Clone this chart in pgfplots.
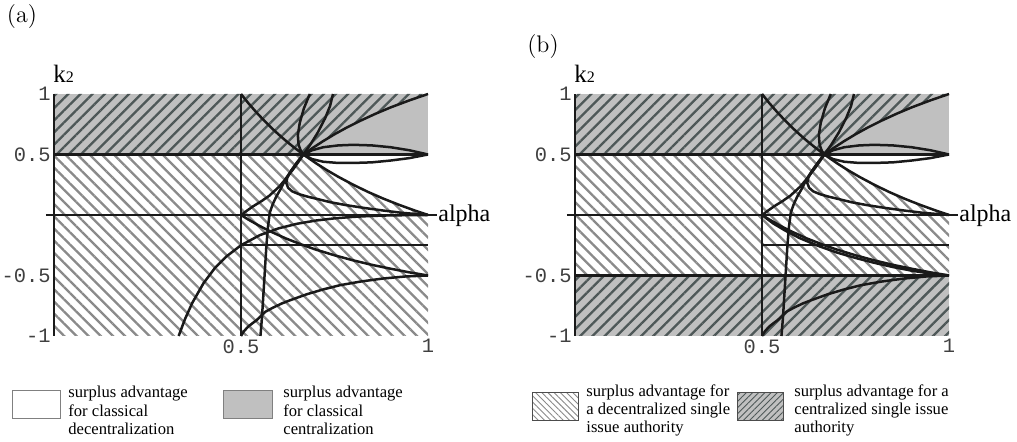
\documentclass[border=0pt]{standalone}
\usepackage{fontspec}
\usepackage{pgfplots}
\usepackage{pgfplotstable}
\pgfplotsset{compat=1.18}
\usetikzlibrary{patterns.meta}
\newfontfamily\tnr{Liberation Serif}
\newfontfamily\cour{Liberation Mono}
\definecolor{bandgray}{HTML}{C0C0C0}
\definecolor{hatchlight}{HTML}{8A8A8A}
\definecolor{hatchdark}{HTML}{4E5858}
\definecolor{curve}{HTML}{1A1A1A}

% boundary curves in the (alpha, k2) plane
\pgfplotstableread{
a k
0.50 1.000
0.52 0.923
0.54 0.852
0.56 0.786
0.58 0.724
0.60 0.667
0.62 0.613
0.64 0.5625
0.6667 0.500
0.70 0.4286
0.73 0.370
0.76 0.316
0.80 0.250
0.84 0.190
0.88 0.136
0.92 0.087
0.96 0.042
1.00 0.000
}\curveA
\pgfplotstableread{
a k
0.6667 0.500
0.69 0.551
0.72 0.611
0.75 0.667
0.78 0.718
0.82 0.780
0.86 0.837
0.90 0.889
0.95 0.947
1.00 1.000
}\curveB
\pgfplotstableread{
a k
0.6667 0.500
0.69 0.535
0.72 0.560
0.76 0.575
0.80 0.580
0.85 0.575
0.90 0.560
0.95 0.535
1.00 0.500
}\lensUp
\pgfplotstableread{
a k
0.6667 0.500
0.69 0.462
0.72 0.440
0.76 0.430
0.80 0.430
0.85 0.435
0.90 0.450
0.95 0.470
1.00 0.500
}\lensLow
\pgfplotstableread{
a k
0.684 1.000
0.668 0.880
0.657 0.760
0.652 0.660
0.654 0.580
0.660 0.530
0.6667 0.500
}\curveU
\pgfplotstableread{
a k
0.500 0.000
0.531 0.069
0.555 0.115
0.576 0.160
0.602 0.234
0.620 0.300
0.640 0.380
0.655 0.445
0.6667 0.500
0.685 0.580
0.705 0.680
0.725 0.800
0.738 0.900
0.746 1.000
}\curveE
\pgfplotstableread{
a k
0.552 -1.000
0.556 -0.850
0.560 -0.650
0.564 -0.450
0.568 -0.250
0.572 -0.100
0.577 0.020
0.585 0.090
0.594 0.150
0.607 0.220
0.620 0.300
0.635 0.370
0.650 0.435
0.6667 0.500
}\curveS
\pgfplotstableread{
a k
0.6667 0.500
0.650 0.435
0.635 0.370
0.624 0.310
0.621 0.265
0.626 0.225
0.637 0.195
0.655 0.172
0.680 0.150
0.710 0.128
0.740 0.105
0.780 0.082
0.830 0.058
0.880 0.037
0.930 0.018
1.000 0.000
}\curveF
\pgfplotstableread{
a k
0.50 0.000
0.52 -0.0385
0.55 -0.0909
0.58 -0.138
0.62 -0.194
0.66 -0.242
0.70 -0.286
0.75 -0.333
0.80 -0.375
0.85 -0.412
0.90 -0.444
0.95 -0.474
1.00 -0.500
}\curveG
\pgfplotstableread{
a k
0.500 -1.000
0.508 -0.960
0.520 -0.920
0.542 -0.868
0.565 -0.800
0.586 -0.765
0.610 -0.730
0.631 -0.705
0.676 -0.655
0.720 -0.615
0.765 -0.580
0.820 -0.550
0.880 -0.525
0.940 -0.508
1.000 -0.500
}\curveI
\pgfplotstableread{
a k
0.3333 -1.000
0.35 -0.862
0.37 -0.725
0.40 -0.5625
0.43 -0.439
0.46 -0.345
0.50 -0.250
0.55 -0.167
0.60 -0.111
0.65 -0.0725
0.70 -0.0459
0.75 -0.0278
0.80 -0.0156
0.85 -0.0078
0.90 -0.0031
1.00 0.000
}\curveH
\pgfplotstableread{
a k
0.50 0.000
0.53 -0.070
0.56 -0.125
0.60 -0.190
0.65 -0.255
0.70 -0.310
0.75 -0.355
0.80 -0.395
0.85 -0.430
0.90 -0.460
0.95 -0.484
1.00 -0.500
}\curveGb

\pgfplotsset{
  panel/.style={
    scale only axis, width=187pt, height=121pt,
    xmin=0, xmax=1, ymin=-1, ymax=1,
    clip=false,
    axis line style={draw=none},
    major tick style={draw=none},
    xtick={0.5,1}, xticklabels={0.5,1},
    ytick={-1,-0.5,0.5,1}, yticklabels={-1,-0.5,0.5,1},
    ticklabel style={font=\cour\fontsize{10.2}{12}\selectfont, text=black!75},
    yticklabel style={inner sep=1.5pt},
    xticklabel style={inner sep=1.5pt},
    table/x=a, table/y=k,
  },
  bd/.style={line width=1.25pt, draw=curve, line join=round, mark=none},
  grayband/.style={draw=none, fill=bandgray},
  darkhatch/.style={draw=none, pattern={Lines[angle=45,distance=4.3pt,line width=1.15pt]}, pattern color=hatchdark},
  lighthatch/.style={draw=none, pattern={Lines[angle=-45,distance=4.3pt,line width=1.15pt]}, pattern color=hatchlight},
}

\begin{document}
\begin{tikzpicture}
\useasboundingbox (0,0) rectangle (508.5pt,221pt);

% ---------- panel (a) ----------
\begin{axis}[panel, at={(27pt,53pt)}, anchor=south west]
\addplot[grayband] coordinates {(0,0.5) (1,0.5) (1,1) (0,1)} -- cycle;
\addplot[darkhatch] coordinates {(0,0.5) (0.6667,0.5) (0.69,0.551) (0.72,0.611) (0.75,0.667) (0.78,0.718) (0.82,0.780) (0.86,0.837) (0.90,0.889) (0.95,0.947) (1,1) (0,1)} -- cycle;
\addplot[lighthatch] coordinates {(0,-1) (1,-1) (1,0) (0.96,0.042) (0.92,0.087) (0.88,0.136) (0.84,0.190) (0.80,0.250) (0.76,0.316) (0.73,0.370) (0.70,0.4286) (0.6667,0.5) (0,0.5)} -- cycle;
% straight boundaries
\addplot[bd] coordinates {(0,-1) (0,1)};
\addplot[bd] coordinates {(0.5,-1) (0.5,1)};
\addplot[bd] coordinates {(0,0.5) (1,0.5)};
\addplot[bd] coordinates {(-0.022,0) (1.024,0)};
\addplot[bd] coordinates {(0.5,-0.25) (1,-0.25)};
% curved boundaries
\addplot[bd] table {\curveA};
\addplot[bd] table {\curveB};
\addplot[bd] table {\lensUp};
\addplot[bd] table {\lensLow};
\addplot[bd] table {\curveU};
\addplot[bd] table {\curveE};
\addplot[bd] table {\curveS};
\addplot[bd] table {\curveF};
\addplot[bd] table {\curveG};
\addplot[bd] table {\curveI};
\addplot[bd] table {\curveH};
\node[anchor=base west, inner sep=0, font=\tnr\fontsize{12}{14}\selectfont] at ([xshift=5pt, yshift=-3.5pt]axis cs:1,0) {alpha};
\node[anchor=base west, inner sep=0, font=\tnr\fontsize{12.5}{14}\selectfont] at ([xshift=-0.5pt, yshift=5.5pt]rel axis cs:0,1) {k{\fontsize{8}{9}\selectfont 2}};
\end{axis}

% ---------- panel (b) ----------
\begin{axis}[panel, at={(287.5pt,53pt)}, anchor=south west]
\addplot[grayband] coordinates {(0,0.5) (1,0.5) (1,1) (0,1)} -- cycle;
\addplot[grayband] coordinates {(0,-1) (1,-1) (1,-0.5) (0,-0.5)} -- cycle;
\addplot[darkhatch] coordinates {(0,0.5) (0.6667,0.5) (0.69,0.551) (0.72,0.611) (0.75,0.667) (0.78,0.718) (0.82,0.780) (0.86,0.837) (0.90,0.889) (0.95,0.947) (1,1) (0,1)} -- cycle;
\addplot[darkhatch] coordinates {(0,-1) (1,-1) (1,-0.5) (0,-0.5)} -- cycle;
\addplot[lighthatch] coordinates {(0,-0.5) (1,-0.5) (1,0) (0.96,0.042) (0.92,0.087) (0.88,0.136) (0.84,0.190) (0.80,0.250) (0.76,0.316) (0.73,0.370) (0.70,0.4286) (0.6667,0.5) (0,0.5)} -- cycle;
\addplot[bd] coordinates {(0,-1) (0,1)};
\addplot[bd] coordinates {(0.5,-1) (0.5,1)};
\addplot[bd] coordinates {(0,0.5) (1,0.5)};
\addplot[bd] coordinates {(0,-0.5) (1,-0.5)};
\addplot[bd] coordinates {(-0.022,0) (1.024,0)};
\addplot[bd] coordinates {(0.5,-0.25) (1,-0.25)};
\addplot[bd] table {\curveA};
\addplot[bd] table {\curveB};
\addplot[bd] table {\lensUp};
\addplot[bd] table {\lensLow};
\addplot[bd] table {\curveU};
\addplot[bd] table {\curveE};
\addplot[bd] table {\curveS};
\addplot[bd] table {\curveF};
\addplot[bd] table {\curveG};
\addplot[bd] table {\curveGb};
\addplot[bd] table {\curveI};
\node[anchor=base west, inner sep=0, font=\tnr\fontsize{12}{14}\selectfont] at ([xshift=5pt, yshift=-3.5pt]axis cs:1,0) {alpha};
\node[anchor=base west, inner sep=0, font=\tnr\fontsize{12.5}{14}\selectfont] at ([xshift=-0.5pt, yshift=5.5pt]rel axis cs:0,1) {k{\fontsize{8}{9}\selectfont 2}};
\end{axis}

% panel tags
\node[anchor=center, font=\fontsize{12}{14}\selectfont] at (11pt,212.5pt) {(a)};
\node[anchor=center, font=\fontsize{12}{14}\selectfont] at (271.5pt,197.5pt) {(b)};

% legends
\tikzset{legtext/.style={anchor=north west, inner sep=0, align=left, font=\tnr\fontsize{8.3}{9.2}\selectfont}}
\draw[gray, line width=0.5pt, fill=white] (6pt,11.5pt) rectangle (30pt,25.5pt);
\node[legtext] at (34pt,28pt) {surplus advantage\\for classical\\decentralization};
\draw[gray, line width=0.5pt, fill=bandgray] (111.5pt,11.5pt) rectangle (136pt,25.5pt);
\node[legtext] at (141.5pt,28pt) {surplus advantage\\for classical\\centralization};
\fill[pattern={Lines[angle=-45,distance=2.2pt,line width=0.45pt]}, pattern color=hatchlight] (266pt,10.5pt) rectangle (289pt,24.5pt);
\draw[black!70, line width=0.5pt] (266pt,10.5pt) rectangle (289pt,24.5pt);
\node[legtext] at (293pt,29pt) {surplus advantage for\\a decentralized single\\issue authority};
\fill[bandgray] (368.5pt,10.5pt) rectangle (391.5pt,24.5pt);
\fill[pattern={Lines[angle=45,distance=2.2pt,line width=0.45pt]}, pattern color=hatchdark] (368.5pt,10.5pt) rectangle (391.5pt,24.5pt);
\draw[black!70, line width=0.5pt] (368.5pt,10.5pt) rectangle (391.5pt,24.5pt);
\node[legtext] at (397pt,29pt) {surplus advantage for a\\centralized single issue\\authority};
\end{tikzpicture}
\end{document}
